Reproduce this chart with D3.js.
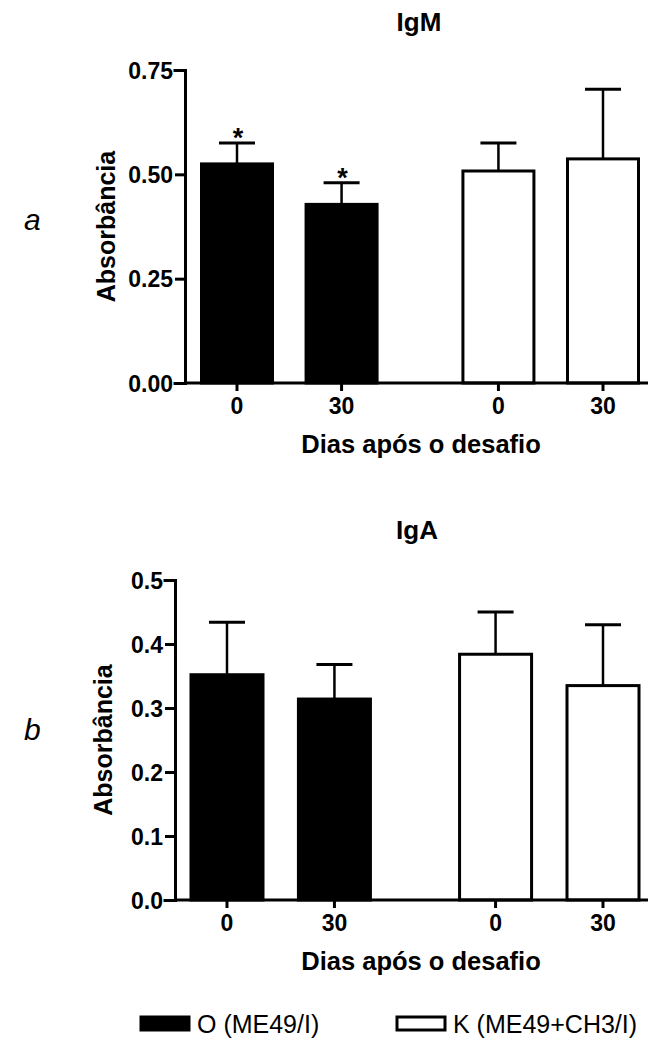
<!DOCTYPE html>
<html>
<head>
<meta charset="utf-8">
<script src="https://cdn.jsdelivr.net/npm/d3@7"></script>
<style>
  body { margin: 0; background: #fff; }
  svg text { font-family: "Liberation Sans", Arial, sans-serif; }
</style>
</head>
<body>
<svg id="chart" width="652" height="1046"></svg>
<script>
// data
const dayLabels = ["0", "30", "0", "30"];
const slotPos = [0, 1, 2.5, 3.5];
const groupOf = ["O", "O", "K", "K"];
const igmMean = [0.525, 0.428, 0.508, 0.537];
const igmSem = [0.050, 0.052, 0.067, 0.167];
const igmStar = [true, true, false, false];
const igaMean = [0.352, 0.314, 0.384, 0.335];
const igaSem = [0.082, 0.054, 0.066, 0.095];
const igmTicks = [0, 0.25, 0.5, 0.75];
const igaTicks = [0, 0.1, 0.2, 0.3, 0.4, 0.5];
const legendItems = [
    { key: "O", label: "O (ME49/I)" },
    { key: "K", label: "K (ME49+CH3/I)" }
];

const fillFor = { O: "#000", K: "#fff" };
const svg = d3.select("#chart");

function drawPanel(opt) {
    const g = svg.append("g");
    const y = d3.scaleLinear().domain(opt.domain).range([opt.y0, opt.y1]);
    const x = d3.scaleLinear().domain([0, 3.5]).range(opt.xr);
    const barW = opt.barW;

    const bars = g.selectAll("g.bar")
        .data(opt.means.map((m, i) => ({ m: m, e: opt.sem[i], i: i })))
        .enter().append("g").attr("class", "bar");

    // error bars, upper half only
    bars.append("line")
        .attr("x1", d => x(slotPos[d.i])).attr("x2", d => x(slotPos[d.i]))
        .attr("y1", d => y(d.m)).attr("y2", d => y(d.m + d.e))
        .attr("stroke", "#000").attr("stroke-width", 2.5);
    bars.append("line")
        .attr("x1", d => x(slotPos[d.i]) - 18).attr("x2", d => x(slotPos[d.i]) + 18)
        .attr("y1", d => y(d.m + d.e)).attr("y2", d => y(d.m + d.e))
        .attr("stroke", "#000").attr("stroke-width", 3);

    bars.append("rect")
        .attr("x", d => x(slotPos[d.i]) - barW / 2 + 1.5)
        .attr("width", barW - 3)
        .attr("y", d => y(d.m))
        .attr("height", d => opt.y0 - y(d.m))
        .attr("fill", d => fillFor[groupOf[d.i]])
        .attr("stroke", "#000")
        .attr("stroke-width", 3);

    if (opt.stars) {
        bars.filter(d => opt.stars[d.i]).append("text")
            .attr("x", d => x(slotPos[d.i]) + 1)
            .attr("y", d => y(d.m + d.e) + 4)
            .attr("text-anchor", "middle")
            .attr("font-size", 27).attr("font-weight", "bold")
            .text("*");
    }

    // y axis
    const yAxis = d3.axisLeft(y).tickValues(opt.ticks).tickFormat(d3.format(opt.fmt))
        .tickSizeOuter(0).tickSize(10).tickPadding(2);
    const ya = g.append("g").attr("transform", `translate(${opt.ax},0)`).call(yAxis);
    ya.select(".domain").attr("stroke-width", 3).attr("stroke-linecap", "square");
    ya.selectAll(".tick line").attr("stroke-width", 3);
    ya.selectAll(".tick text").attr("font-size", 23).attr("font-weight", "bold")
        .attr("font-family", "Liberation Sans, Arial, sans-serif").attr("fill", "#000")
        .attr("dy", "0.36em");

    // x axis
    g.append("line")
        .attr("x1", opt.ax).attr("x2", 648)
        .attr("y1", opt.y0).attr("y2", opt.y0)
        .attr("stroke", "#000").attr("stroke-width", 3);
    const xt = g.selectAll("g.xt").data(dayLabels).enter().append("g");
    xt.append("line")
        .attr("x1", (d, i) => x(slotPos[i])).attr("x2", (d, i) => x(slotPos[i]))
        .attr("y1", opt.y0).attr("y2", opt.y0 + 8)
        .attr("stroke", "#000").attr("stroke-width", 3);
    xt.append("text")
        .attr("x", (d, i) => x(slotPos[i])).attr("y", opt.y0 + 31)
        .attr("text-anchor", "middle").attr("font-size", 23).attr("font-weight", "bold")
        .text(d => d);

    // titles
    g.append("text").attr("x", opt.titleX).attr("y", opt.titleY)
        .attr("text-anchor", "middle").attr("font-size", 26).attr("font-weight", "bold")
        .text(opt.title);
    g.append("text").attr("x", 421).attr("y", opt.y0 + 70)
        .attr("text-anchor", "middle").attr("font-size", 25.5).attr("font-weight", "bold")
        .text("Dias após o desafio");
    g.append("text")
        .attr("transform", `translate(${opt.labX},${(opt.y0 + opt.y1) / 2}) rotate(-90)`)
        .attr("text-anchor", "middle").attr("font-size", 25).attr("font-weight", "bold")
        .text("Absorbância");
    g.append("text").attr("x", 24).attr("y", opt.letterY)
        .attr("font-size", 30).attr("font-style", "italic")
        .text(opt.letter);
}

drawPanel({
    title: "IgM", titleX: 419, titleY: 31, letter: "a", letterY: 230,
    domain: [0, 0.75], y0: 383, y1: 70, ticks: igmTicks, fmt: ".2f",
    ax: 185, xr: [237, 603], barW: 74, labX: 115,
    means: igmMean, sem: igmSem, stars: igmStar
});

drawPanel({
    title: "IgA", titleX: 417, titleY: 539, letter: "b", letterY: 740,
    domain: [0, 0.5], y0: 900, y1: 580, ticks: igaTicks, fmt: ".1f",
    ax: 175, xr: [227, 603], barW: 75, labX: 112,
    means: igaMean, sem: igaSem, stars: null
});

// legend
const leg = svg.append("g").attr("transform", "translate(0,1024)");
const li = leg.selectAll("g").data(legendItems).enter().append("g")
    .attr("transform", (d, i) => `translate(${i === 0 ? 141 : 397},0)`);
li.append("rect")
    .attr("x", 0).attr("y", -7).attr("width", 48).attr("height", 13)
    .attr("fill", d => fillFor[d.key]).attr("stroke", "#000").attr("stroke-width", 3);
li.append("text").attr("x", 56).attr("y", 9)
    .attr("font-size", 25).text(d => d.label);
</script>
</body>
</html>
